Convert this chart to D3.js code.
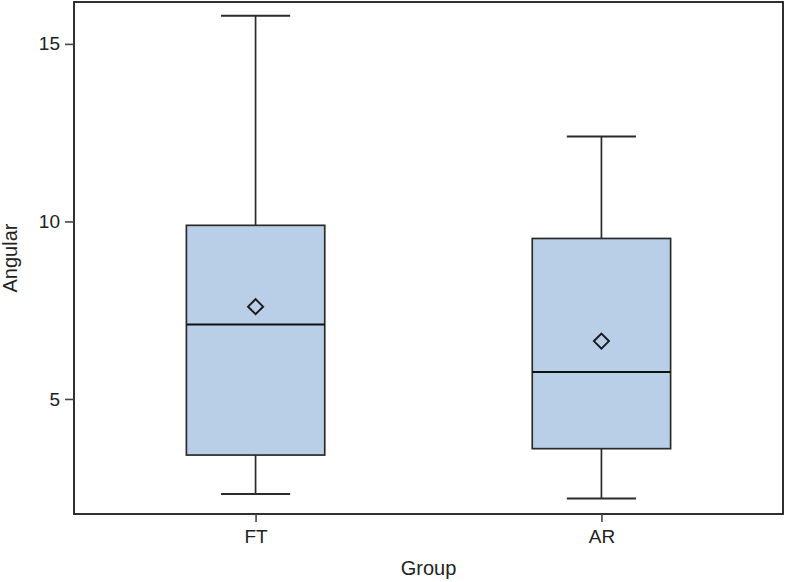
<!DOCTYPE html>
<html>
<head>
<meta charset="utf-8">
<script src="https://cdn.jsdelivr.net/npm/d3@7"></script>
<style>
  body { margin: 0; background: #fff; }
  text { font-family: Arial, "Liberation Sans", sans-serif; fill: #222; }
</style>
</head>
<body>
<svg width="786" height="582"></svg>
<script>
var svg = d3.select("svg");

// values
var groups = ["FT", "AR"];
var whiskerLow = [2.32, 2.20];
var q1 = [3.42, 3.60];
var median = [7.10, 5.76];
var q3 = [9.89, 9.52];
var whiskerHigh = [15.79, 12.39];
var mean = [7.60, 6.63];
var yTicks = [5, 10, 15];

// plot frame (note: "top" is taken by window.top)
var plotL = 74, plotR = 783, plotT = 2, plotB = 514;

var x = d3.scalePoint()
    .domain(groups)
    .range([plotL, plotR])
    .padding(0.525);

var y = d3.scaleLinear()
    .domain([1.76, 16.18])
    .range([plotB, plotT]);

var step = x.step();
var boxW = step * 0.4, capW = step * 0.2;
var ink = "#2b2b2b";

// boxes
var g = svg.append("g").attr("class", "boxes");
groups.forEach(function(d, i) {
  var cx = x(d);
  // whiskers
  g.append("line").attr("x1", cx).attr("x2", cx)
      .attr("y1", y(q3[i])).attr("y2", y(whiskerHigh[i]))
      .attr("stroke", ink).attr("stroke-width", 1.7);
  g.append("line").attr("x1", cx).attr("x2", cx)
      .attr("y1", y(q1[i])).attr("y2", y(whiskerLow[i]))
      .attr("stroke", ink).attr("stroke-width", 1.7);
  g.append("line").attr("x1", cx - capW / 2).attr("x2", cx + capW / 2)
      .attr("y1", y(whiskerHigh[i])).attr("y2", y(whiskerHigh[i]))
      .attr("stroke", ink).attr("stroke-width", 2);
  g.append("line").attr("x1", cx - capW / 2).attr("x2", cx + capW / 2)
      .attr("y1", y(whiskerLow[i])).attr("y2", y(whiskerLow[i]))
      .attr("stroke", ink).attr("stroke-width", 2);
  g.append("rect")
      .attr("x", cx - boxW / 2).attr("width", boxW)
      .attr("y", y(q3[i])).attr("height", y(q1[i]) - y(q3[i]))
      .attr("fill", "#b9cfe8").attr("stroke", ink).attr("stroke-width", 1.7);
  g.append("line").attr("x1", cx - boxW / 2).attr("x2", cx + boxW / 2)
      .attr("y1", y(median[i])).attr("y2", y(median[i]))
      .attr("stroke", "#111").attr("stroke-width", 2);
  var my = y(mean[i]), r = 7.5;
  g.append("path")
      .attr("d", "M" + cx + "," + (my - r) + "L" + (cx + r) + "," + my +
                 "L" + cx + "," + (my + r) + "L" + (cx - r) + "," + my + "Z")
      .attr("fill", "none").attr("stroke", "#1a1a1a").attr("stroke-width", 2);
});

// frame
svg.append("rect")
    .attr("x", plotL).attr("y", plotT)
    .attr("width", plotR - plotL).attr("height", plotB - plotT)
    .attr("fill", "none").attr("stroke", "#1a1a1a").attr("stroke-width", 1.8);

// axes
var yAxis = svg.append("g")
    .attr("transform", "translate(" + plotL + ",0)")
    .call(d3.axisLeft(y).tickValues(yTicks).tickSize(9).tickPadding(5));
var xAxis = svg.append("g")
    .attr("transform", "translate(0," + plotB + ")")
    .call(d3.axisBottom(x).tickSize(8).tickPadding(8));

[yAxis, xAxis].forEach(function(a) {
  a.select(".domain").remove();
  a.selectAll(".tick line").attr("stroke", "#444").attr("stroke-width", 1.6);
  a.selectAll(".tick text").style("font-size", "19px").attr("fill", "#222");
});

svg.append("text")
    .attr("x", (plotL + plotR) / 2).attr("y", 575)
    .attr("text-anchor", "middle").style("font-size", "20px")
    .text("Group");

svg.append("text")
    .attr("transform", "translate(17," + (plotT + plotB) / 2 + ") rotate(-90)")
    .attr("text-anchor", "middle").style("font-size", "20px")
    .text("Angular");
</script>
</body>
</html>
